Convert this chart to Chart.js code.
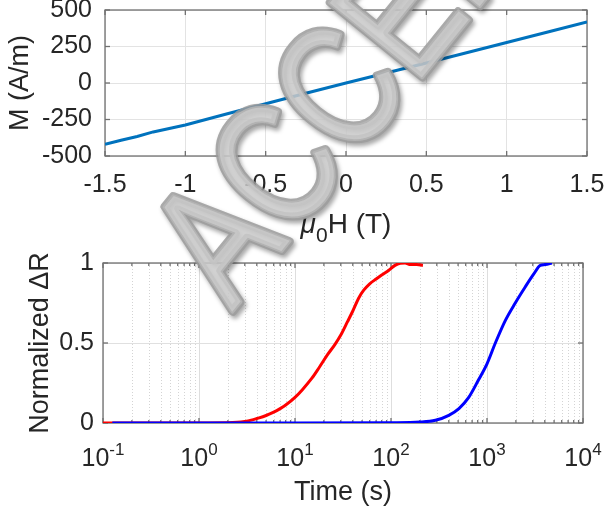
<!DOCTYPE html>
<html>
<head>
<meta charset="utf-8">
<script src="https://cdn.jsdelivr.net/npm/chart.js@4.4.1/dist/chart.umd.min.js"></script>
<style>
  html, body { margin: 0; padding: 0; background: #fff; }
  #wrap { position: relative; width: 606px; height: 511px; }
  #fieldChart { position: absolute; left: 0; top: 0; z-index: 2; }
  #timeChart { position: absolute; left: 0; top: 245px; z-index: 1; }
</style>
</head>
<body>
<div id="wrap">
  <canvas id="timeChart" width="606" height="266"></canvas>
  <canvas id="fieldChart" width="606" height="511"></canvas>
</div>
<script>
// M vs mu0H (top panel)
const fieldH = [-1.5, -1.4, -1.3, -1.2, -1.0, -0.75, -0.5, -0.25, 0, 0.25, 0.5, 0.75, 1.0, 1.25, 1.5];
const magM = [-420, -392, -366, -335, -288, -214, -142, -70, 0, 69, 137, 207, 277, 348, 418];
const fieldTicks = [-1.5, -1, -0.5, 0, 0.5, 1, 1.5];
const magTicks = [-500, -250, 0, 250, 500];

// Normalized dR vs time (bottom panel)
const redTime = [0.1, 0.3, 1, 2, 2.5, 3, 3.5, 4, 5, 6, 7, 8, 10, 12, 15, 18, 22, 26, 30, 35, 40, 46, 52, 60, 70, 80, 95, 110, 125, 140, 160, 185, 215];
const redDR = [0, 0, 0, 0.001, 0.004, 0.01, 0.018, 0.028, 0.047, 0.068, 0.09, 0.112, 0.16, 0.21, 0.28, 0.35, 0.43, 0.49, 0.55, 0.63, 0.7, 0.78, 0.83, 0.87, 0.9, 0.925, 0.955, 0.985, 0.998, 1.0, 0.99, 0.99, 0.985];
const blueTime = [0.125, 1, 10, 100, 200, 290, 400, 510, 645, 817, 1000, 1222, 1550, 1970, 2500, 3060, 3590, 4050, 4750];
const blueDR = [0, 0, 0, 0.002, 0.006, 0.017, 0.048, 0.09, 0.16, 0.27, 0.37, 0.5, 0.64, 0.75, 0.85, 0.93, 0.985, 0.99, 1.0];
const decadeTicks = [0.1, 1, 10, 100, 1000, 10000];
const decadeExps = ['-1', '0', '1', '2', '3', '4'];
const drTicks = [0, 0.5, 1];

const FONT = '"Liberation Sans", Arial, sans-serif';
const TEXT = '#262626';
Chart.defaults.font.family = FONT;
Chart.defaults.color = TEXT;
Chart.defaults.animation = false;

function isDecade(v) {
  const e = Math.log10(v);
  return Math.abs(e - Math.round(e)) < 1e-9;
}

// minor ticks of the log axis: 2..9 in every decade
const minorTicks = [];
decadeTicks.slice(0, -1).forEach(d => {
  for (let m = 2; m <= 9; m++) minorTicks.push(d * m);
});

function line(ctx, x1, y1, x2, y2) {
  ctx.beginPath(); ctx.moveTo(x1, y1); ctx.lineTo(x2, y2); ctx.stroke();
}

// box, inside tick marks and dotted minor grid (matlab style)
const framePlugin = {
  id: 'frame',
  beforeDatasetsDraw(chart) {
    const { ctx, chartArea: a, scales } = chart;
    const xs = scales.x, ys = scales.y;
    const logX = xs.type === 'logarithmic';
    ctx.save();
    if (logX) {
      ctx.strokeStyle = '#d4d4d4';
      ctx.lineWidth = 1;
      ctx.setLineDash([1, 2]);
      xs.ticks.forEach(t => {
        if (isDecade(t.value)) return;
        const px = Math.round(xs.getPixelForValue(t.value)) + 0.5;
        line(ctx, px, a.top, px, a.bottom);
      });
      ctx.setLineDash([]);
    }
    ctx.strokeStyle = '#707070';
    ctx.lineWidth = 1.3;
    ctx.strokeRect(a.left, a.top, a.right - a.left, a.bottom - a.top);
    xs.ticks.forEach(t => {
      const px = xs.getPixelForValue(t.value);
      const len = (logX && !isDecade(t.value)) ? 3 : 5;
      line(ctx, px, a.bottom, px, a.bottom - len);
      line(ctx, px, a.top, px, a.top + len);
    });
    ys.ticks.forEach(t => {
      const py = ys.getPixelForValue(t.value);
      line(ctx, a.left, py, a.left + 5, py);
      line(ctx, a.right, py, a.right - 5, py);
    });
    ctx.restore();
  }
};

// x title with subscript: mu_0 H (T)
const fieldTitlePlugin = {
  id: 'fieldTitle',
  afterDraw(chart) {
    const { ctx, chartArea: a } = chart;
    const mid = (a.left + a.right) / 2;
    const base = 233;
    ctx.save();
    ctx.fillStyle = TEXT;
    ctx.textBaseline = 'alphabetic';
    ctx.textAlign = 'left';
    ctx.font = 'italic 28px ' + FONT; const w1 = ctx.measureText('\u03bc').width;
    ctx.font = '21px ' + FONT; const w2 = ctx.measureText('0').width;
    ctx.font = '28px ' + FONT; const w3 = ctx.measureText('H (T)').width;
    let x = mid - (w1 + w2 + w3) / 2;
    ctx.font = 'italic 28px ' + FONT; ctx.fillText('\u03bc', x, base); x += w1;
    ctx.font = '21px ' + FONT; ctx.fillText('0', x, base + 9); x += w2;
    ctx.font = '28px ' + FONT; ctx.fillText('H (T)', x, base);
    ctx.restore();
  }
};

// grey diagonal stamp across both panels
const watermarkPlugin = {
  id: 'watermark',
  afterDraw(chart) {
    const ctx = chart.ctx;
    const word = 'ACCEPTED';
    ctx.save();
    ctx.translate(232, 312);
    ctx.rotate(-51 * Math.PI / 180);
    ctx.scale(0.8, 1);
    ctx.font = '172px ' + FONT;
    ctx.textBaseline = 'alphabetic';
    ctx.lineJoin = 'round';
    ctx.globalAlpha = 0.85;
    ctx.shadowColor = 'rgba(0,0,0,0.4)';
    ctx.shadowBlur = 4;
    ctx.shadowOffsetX = 2;
    ctx.shadowOffsetY = 3;
    ctx.strokeStyle = '#9c9c9c';
    ctx.lineWidth = 9;
    ctx.strokeText(word, 0, 0);
    ctx.shadowColor = 'transparent';
    ctx.strokeStyle = '#b6b6b6';
    ctx.lineWidth = 4;
    ctx.strokeText(word, 0, 0);
    ctx.fillStyle = '#cacaca';
    ctx.fillText(word, 0, 0);
    ctx.restore();
  }
};

// decade labels 10^n for the log axis
const decadeLabelPlugin = {
  id: 'decadeLabels',
  afterDraw(chart) {
    const { ctx } = chart;
    const xs = chart.scales.x;
    ctx.save();
    ctx.fillStyle = TEXT;
    ctx.textAlign = 'left';
    ctx.textBaseline = 'alphabetic';
    decadeTicks.forEach((v, i) => {
      const px = xs.getPixelForValue(v);
      ctx.font = '25px ' + FONT; const wb = ctx.measureText('10').width;
      ctx.font = '17px ' + FONT; const we = ctx.measureText(decadeExps[i]).width;
      const x0 = px - (wb + we) / 2;
      ctx.font = '25px ' + FONT; ctx.fillText('10', x0, 221);
      ctx.font = '17px ' + FONT; ctx.fillText(decadeExps[i], x0 + wb, 210);
    });
    ctx.restore();
  }
};

function zeroPad(s) { s.paddingTop = 0; s.paddingBottom = 0; s.paddingLeft = 0; s.paddingRight = 0; }

// Top panel
new Chart(document.getElementById('fieldChart'), {
  type: 'line',
  data: {
    datasets: [{
      data: fieldH.map((h, i) => ({ x: h, y: magM[i] })),
      borderColor: '#0072BD',
      borderWidth: 3,
      pointRadius: 0,
      tension: 0
    }]
  },
  options: {
    responsive: false,
    events: [],
    layout: { padding: { left: 0, right: 19, top: 10, bottom: 266 } },
    plugins: { legend: { display: false }, tooltip: { enabled: false } },
    scales: {
      x: {
        type: 'linear', min: -1.5, max: 1.5,
        afterBuildTicks: s => { s.ticks = fieldTicks.map(v => ({ value: v })); },
        afterFit: s => { s.height = 89; zeroPad(s); },
        grid: { color: '#e3e3e3', drawTicks: false },
        border: { display: false },
        ticks: { padding: 14, font: { size: 25 }, color: TEXT, maxRotation: 0, autoSkip: false, callback: v => String(v) }
      },
      y: {
        type: 'linear', min: -500, max: 500,
        afterBuildTicks: s => { s.ticks = magTicks.map(v => ({ value: v })); },
        afterFit: s => { s.width = 105; zeroPad(s); },
        grid: { color: '#e3e3e3', drawTicks: false },
        border: { display: false },
        ticks: { padding: 13, font: { size: 25 }, color: TEXT, autoSkip: false, callback: v => String(v) },
        title: { display: true, text: 'M (A/m)', font: { size: 27 }, color: TEXT, padding: { top: 4, bottom: 0 } }
      }
    }
  },
  plugins: [framePlugin, fieldTitlePlugin, watermarkPlugin]
});

// Bottom panel
new Chart(document.getElementById('timeChart'), {
  type: 'line',
  data: {
    datasets: [
      {
        data: redTime.map((t, i) => ({ x: t, y: redDR[i] })),
        borderColor: '#FF0000',
        borderWidth: 3,
        pointRadius: 0,
        cubicInterpolationMode: 'monotone',
        order: 2
      },
      {
        data: blueTime.map((t, i) => ({ x: t, y: blueDR[i] })),
        borderColor: '#0000FF',
        borderWidth: 3,
        pointRadius: 0,
        cubicInterpolationMode: 'monotone',
        order: 1
      }
    ]
  },
  options: {
    responsive: false,
    events: [],
    layout: { padding: { left: 0, right: 23, top: 18, bottom: 0 } },
    plugins: { legend: { display: false }, tooltip: { enabled: false } },
    scales: {
      x: {
        type: 'logarithmic', min: 0.1, max: 10000,
        afterBuildTicks: s => {
          s.ticks = decadeTicks.concat(minorTicks).sort((p, q) => p - q).map(v => ({ value: v, major: isDecade(v) }));
        },
        afterFit: s => { s.height = 88; zeroPad(s); },
        grid: { color: c => isDecade(c.tick.value) ? '#dedede' : 'rgba(0,0,0,0)', drawTicks: false },
        border: { display: false },
        ticks: { display: false, autoSkip: false },
        title: { display: true, text: 'Time (s)', font: { size: 27 }, color: TEXT, padding: { top: 0, bottom: 2 } }
      },
      y: {
        type: 'linear', min: 0, max: 1,
        afterBuildTicks: s => { s.ticks = drTicks.map(v => ({ value: v })); },
        afterFit: s => { s.width = 103; zeroPad(s); },
        grid: { color: '#e0e0e0', drawTicks: false },
        border: { display: false },
        ticks: { padding: 9, font: { size: 25 }, color: TEXT, autoSkip: false, callback: v => String(v) },
        title: { display: true, text: 'Normalized \u0394R', font: { size: 27 }, color: TEXT, padding: { top: 24, bottom: 0 } }
      }
    }
  },
  plugins: [framePlugin, decadeLabelPlugin]
});
</script>
</body>
</html>
